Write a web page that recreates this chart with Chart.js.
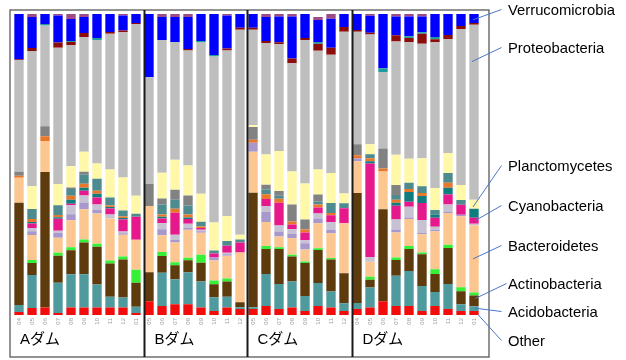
<!DOCTYPE html>
<html>
<head>
<meta charset="utf-8">
<script src="https://cdn.jsdelivr.net/npm/chart.js@4.4.0/dist/chart.umd.min.js"></script>
<style>
  html, body { margin: 0; padding: 0; background: #fff; }
  #wrap { width: 626px; height: 360px; position: relative; }
</style>
</head>
<body>
<div id="wrap"><canvas id="c" width="626" height="360"></canvas></div>
<script>
// Sampling dates per dam (month labels), dams in order A, B, C, D
const panelNames = ['Aダム', 'Bダム', 'Cダム', 'Dダム'];
const panelSizes = [10, 8, 8, 10];
const sampleLabels = [
  '04','05','06','07','08','09','10','11','12','01',
  '05','06','07','08','09','10','11','12',
  '05','06','07','08','09','10','11','12',
  '04','05','06','07','08','09','10','11','12','01'
];

// Relative abundance (%) of each phylum, stacked from the bottom up
const other = [1,2.3,2.5,0.7,2.5,2.5,2.5,2.5,2.5,0.7, 4.6,3,3.6,3.6,2.5,1.3,2.5,2, 2,3,2,2.5,1.3,3,2.5,1.3, 2,2.5,4.6,3,3,1.3,3,2,1.3,1.3];
const acidobacteria = [2.3,11,0,10,11,11,7.6,3.6,3.3,2, 0,11,8.3,10.6,8.6,4.6,3.6,0.6, 0.6,10.6,8.3,8.6,5,7.6,5.3,2.6, 2,6.6,0,10,11.6,8.3,4.6,8.3,2.3,1.6];
const actinobacteria = [34,4,45,9,8,10.6,12.6,11,12.6,8, 9.6,5.6,4.6,4,6.3,4.3,5,1.6, 38,8.3,11.6,8.3,11,11,10.6,10, 36.5,2.6,30.5,5.3,7.3,10.6,6,12,4.3,3.6];
const chloroflexi = [0,1,0,1,1,1,1,1,1,4.3, 0,1.3,1,0.8,2.6,1.3,1,0, 0,1,0.6,0.6,0.5,0.6,0.5,0, 0,1,0,0.8,1,0.6,1.6,1,1.3,1];
const bacteroidetes = [8.3,8.3,10.3,5,9,10,10,14,7.3,10, 22,5.6,6.6,9.3,7.3,6.6,7.6,16.6, 13.6,8,3.6,5.6,4,8.3,8.3,16.6, 10.6,5,12.6,8.3,9,6,12.6,10.6,23.6,22.3];
const firmicutes = [0,1.2,0,1.6,2,2.3,1.3,0,0.5,0, 0,2,0.8,0.7,0.5,1,0.5,0, 3,3.3,1.6,1.3,2,1.6,1,0, 1,0,0,1,0.5,0.5,0.5,0.5,0.5,0];
const armatimonadetes = [0,1.1,0,0.7,3,2.3,1.7,1.3,0.5,0, 0,2,1.8,1.3,0.5,0,0.5,0, 0,2,2,1.6,1,1.6,2.6,0, 0,1.6,0,3.3,3.6,4.3,1,2.3,0,0.5];
const cyanobacteria = [0,1.5,0,4,0.5,1.6,2.3,2,4,7.6, 0,1.6,7.3,1.6,0.6,1.3,2.3,3.3, 0,2.3,7.6,1.6,2.6,2,2.3,5, 0,31,0,4.6,1.6,5.6,3,3.3,3.3,2];
const chlorobi = [0,0.5,0,0.5,1.3,1,1.3,0.5,0.5,0, 0,0.5,0,0.5,0,0,0,0, 0,0,0,0,0,0,0,0, 0,0.8,0,1,3.3,2.3,1,2.3,0,3];
const gemmatimonadetes = [0.7,1,1.6,0.7,1.3,1.3,1,0.5,0.5,0, 0,0.8,1.3,1,0.5,0,0,0, 1,1.6,1.3,1,1,1,0.8,0, 1,1,1,1,1,1,0,1.6,0,0];
const nitrospirae = [0,3.3,0,3.3,2.3,3,4,2.6,2,1, 0,3.3,3,3,1.6,1,1.6,1, 0,1.6,1,0,0,1,3.3,1.6, 0,1.3,0,1.6,2,2.3,1.6,3.3,1.6,0];
const unclassified = [1.3,0,3.3,0,0.5,1,0,0,0,0, 7.3,2,3.3,3.3,0,0,0,0, 4.3,1.6,1.6,5.6,3.3,2.3,0,0, 3.6,0,6.6,3.3,0,0,0,0,0,0];
const planctomycetes = [0,7.6,0,7,7,6.6,5,9.3,11,6, 0,8.6,10,10,9.3,9.3,8.3,1.6, 0.5,10,13.3,11,12,8.3,10,3.3, 0,3.3,0,10,8,9.3,7.3,6.6,5,3];
const proteobacteria = [37.1,44.9,33.5,45.3,40.3,38.2,41.1,45.1,48.2,57.1, 35.5,44.1,39.1,38.2,50.2,55.2,55,68.1, 31.8,37.1,35.5,35.9,47.7,39.5,39.3,53.7, 37.4,36.5,25.4,37.7,38.8,38,48.4,37.9,51.8,58.1];
const deinococcus = [0.3,1,0,1.7,1,1.3,0,0.6,0.6,0.3, 0,0,0,0.5,0,0,0.6,0.6, 0.6,0.6,0.6,1.6,0.6,2.3,2.3,1.6, 0.6,0.6,0,2,1.3,3.3,1,1.3,1,0.6];
const spirochaetes = [0,0,0.5,0,0.3,0,0.6,0,0,0, 0,0,0,0,0.5,0.5,0,0, 0,0,0,0,0,0.6,0,0, 0,0,1.3,0,0.6,0.5,0.8,0,0,0];
const verrucomicrobia = [15,10.3,3.3,9,7.3,5.3,8,6,5,3, 21,7.6,8.3,10.6,9,13.6,11,4.6, 4.6,8,8.6,14,8,7.3,9.6,4.3, 5.3,5.6,18,6.3,6.6,5.3,7.6,7,4,3];
const tm7 = [0,1,0,0.5,1.7,1,0,0,0.5,0, 0,1,1,1,0,0,0.5,0, 0,1,0.8,0.8,0,1,1.6,0, 0,0.6,0,0.8,0.8,0.8,0,0,0,0];

const series = [
  { label: 'Other',            data: other,            color: '#F20C0C' },
  { label: 'Acidobacteria',    data: acidobacteria,    color: '#4F9A9D' },
  { label: 'Actinobacteria',   data: actinobacteria,   color: '#5E3B0C' },
  { label: 'Chloroflexi',      data: chloroflexi,      color: '#35F035' },
  { label: 'Bacteroidetes',    data: bacteroidetes,    color: '#FCC690' },
  { label: 'Firmicutes',       data: firmicutes,       color: '#A898CC' },
  { label: 'Armatimonadetes',  data: armatimonadetes,  color: '#C6C2D2' },
  { label: 'Cyanobacteria',    data: cyanobacteria,    color: '#E6198C' },
  { label: 'Chlorobi',         data: chlorobi,         color: '#0F7C7E' },
  { label: 'Gemmatimonadetes', data: gemmatimonadetes, color: '#E8772A' },
  { label: 'Nitrospirae',      data: nitrospirae,      color: '#4E8B8E' },
  { label: 'Unclassified',     data: unclassified,     color: '#828282' },
  { label: 'Planctomycetes',   data: planctomycetes,   color: '#FFF8A8' },
  { label: 'Proteobacteria',   data: proteobacteria,   color: '#BEBEBE' },
  { label: 'Deinococcus',      data: deinococcus,      color: '#8C0C0C' },
  { label: 'Spirochaetes',     data: spirochaetes,     color: '#1E9C9C' },
  { label: 'Verrucomicrobia',  data: verrucomicrobia,  color: '#0000FF' },
  { label: 'TM7',              data: tm7,              color: '#9E4A86' }
];

// Callout labels on the right: which stack they point to, text row, where on the segment
const callouts = [
  { name: 'Verrucomicrobia', ty: 11,  frac: 0.35, dx: -1, sx: 501.5 },
  { name: 'Proteobacteria',  ty: 49,  frac: 0.79, dx: -2, sx: 501.5 },
  { name: 'Planctomycetes',  ty: 167, frac: 0.2,  dx: -1, sx: 501.5 },
  { name: 'Cyanobacteria',   ty: 207, frac: 0.5,  dx: 1,  sx: 501.5 },
  { name: 'Bacteroidetes',   ty: 247, frac: 0.5,  dx: -1, sx: 501.5 },
  { name: 'Actinobacteria',  ty: 285, frac: 0.7,  dx: 1,  sx: 506.5 },
  { name: 'Acidobacteria',   ty: 313, frac: 0.6,  dx: 1,  sx: 501.5 },
  { name: 'Other',           ty: 342, frac: 0.1,  dx: 4,  sx: 501.5 }
];

const damFrames = {
  id: 'damFrames',
  afterDraw(chart) {
    const { ctx, chartArea: a, scales: { x, y } } = chart;
    const step = x.getPixelForValue(1) - x.getPixelForValue(0);
    const top = a.top - 4, bottom = a.bottom + 42;
    const left = a.left - 2.5, right = a.right + 8.5;
    ctx.save();

    // outer frame
    ctx.strokeStyle = '#5a5a5a';
    ctx.lineWidth = 1.3;
    ctx.strokeRect(left, top, right - left, bottom - top);

    // dam separators and names
    const starts = [left];
    let idx = 0;
    panelSizes.forEach((n, i) => {
      idx += n;
      if (i < panelSizes.length - 1) {
        const sx = Math.round(x.getPixelForValue(idx) - step / 2 + 1) + 0.5;
        starts.push(sx);
        ctx.strokeStyle = '#1a1a1a';
        ctx.lineWidth = 2;
        ctx.beginPath();
        ctx.moveTo(sx, top);
        ctx.lineTo(sx, bottom);
        ctx.stroke();
      }
    });
    ctx.fillStyle = '#000';
    ctx.font = '15px "Liberation Sans", "Noto Sans CJK JP", sans-serif';
    ctx.textBaseline = 'middle';
    ctx.textAlign = 'left';
    panelNames.forEach((name, i) => {
      ctx.fillText(name, starts[i] + 10, a.bottom + 25);
    });

    // callouts pointing into the last stack
    const last = sampleLabels.length - 1;
    const lx = x.getPixelForValue(last);
    ctx.font = '14.8px "Liberation Sans", Arial, sans-serif';
    callouts.forEach(c => {
      const si = series.findIndex(s => s.label === c.name);
      let base = 0;
      for (let k = 0; k < si; k++) base += series[k].data[last];
      const v = series[si].data[last];
      const ay = y.getPixelForValue(base + c.frac * v);
      ctx.strokeStyle = '#4A76C6';
      ctx.lineWidth = 1;
      ctx.beginPath();
      ctx.moveTo(c.sx, c.ty - 1.5);
      ctx.lineTo(lx + c.dx, ay);
      ctx.stroke();
      ctx.fillStyle = '#000';
      ctx.fillText(c.name, 508, c.ty);
    });
    ctx.restore();
  }
};

new Chart(document.getElementById('c'), {
  type: 'bar',
  data: {
    labels: sampleLabels,
    datasets: series.map(s => ({
      label: s.label,
      data: s.data,
      backgroundColor: s.color,
      borderWidth: 0,
      barPercentage: 0.72,
      categoryPercentage: 1.0
    }))
  },
  options: {
    responsive: false,
    animation: false,
    devicePixelRatio: 1,
    layout: { padding: { left: 12.5, right: 145.5, top: 14, bottom: 0 } },
    plugins: { legend: { display: false }, tooltip: { enabled: false } },
    scales: {
      x: {
        stacked: true,
        grid: { display: false, drawTicks: false },
        border: { display: false },
        ticks: {
          autoSkip: false,
          minRotation: 90,
          maxRotation: 90,
          padding: 3,
          color: '#9a9a9a',
          font: { size: 6, family: '"Liberation Sans", Arial, sans-serif' }
        },
        afterFit(scale) { scale.height = 45; }
      },
      y: {
        stacked: true,
        display: false,
        min: 0,
        max: 100
      }
    }
  },
  plugins: [damFrames]
});
</script>
</body>
</html>
